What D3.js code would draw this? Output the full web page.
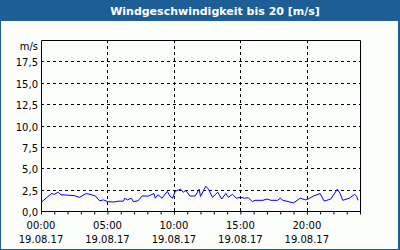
<!DOCTYPE html>
<html>
<head>
<meta charset="utf-8">
<script src="https://cdn.jsdelivr.net/npm/d3@7"></script>
<style>
  body { margin: 0; background: #fff; }
  svg { display: block; font-family: "DejaVu Sans", Verdana, sans-serif; }
</style>
</head>
<body>
<div id="chart"></div>
<script>
// hours since 00:00 on 19.08.17
const hours = [0, 0.8, 1.0, 1.3, 1.5, 2.0, 2.5, 2.9, 3.4, 3.8, 4.1, 4.4, 4.7, 5.0, 5.5, 5.8, 6.2, 6.3, 6.5, 6.8, 6.95, 7.3,
  7.6, 8.1, 8.5, 8.6, 8.8, 9.1, 9.5, 9.7, 9.9, 10.1, 10.5, 10.7, 10.9, 11.2, 11.6, 11.9, 12.0, 12.4, 12.6, 12.9, 13.3,
  13.6, 13.9, 14.1, 14.4, 14.7, 15.0, 15.3, 15.6, 15.9, 16.1, 16.7, 17.0, 17.3, 17.8, 18.0, 18.2, 19.0, 19.5, 19.9,
  20.1, 20.5, 21.0, 21.3, 21.8, 22.3, 22.5, 22.7, 23.2, 23.6, 23.75, 23.85]
const speed = [1.0, 2.05, 1.95, 2.2, 1.9, 1.85, 1.8, 1.6, 2.05, 1.9, 1.75, 1.2, 1.3, 1.1, 1.05, 1.15, 1.15, 1.5, 1.3, 1.5, 1.1, 1.2,
  1.75, 1.75, 2.05, 1.5, 1.9, 1.5, 2.3, 1.75, 1.5, 2.3, 2.55, 2.2, 2.4, 1.75, 1.75, 2.55, 1.7, 2.9, 2.55, 1.6, 2.2,
  1.4, 2.05, 1.6, 1.95, 1.5, 1.6, 1.5, 1.55, 1.1, 1.25, 1.25, 1.4, 1.25, 1.25, 1.5, 1.25, 0.95, 1.5, 1.3,
  1.4, 1.75, 2.05, 1.15, 1.4, 2.55, 2.05, 1.25, 1.5, 1.95, 1.7, 1.25]
const yTicks = [0, 2.5, 5, 7.5, 10, 12.5, 15, 17.5]
const xTicks = [0, 5, 10, 15, 20]
const timeLabels = ['00:00', '05:00', '10:00', '15:00', '20:00']
const dateLabel = '19.08.17'
const title = 'Windgeschwindigkeit bis 20 [m/s]'

const W = 400, H = 250
const blue = '#1c5e95'

const svg = d3.select('#chart').append('svg')
  .attr('width', W).attr('height', H)

svg.append('rect').attr('width', W).attr('height', H).attr('fill', blue)
svg.append('rect').attr('x', 1).attr('y', 21).attr('width', W - 3).attr('height', H - 22).attr('fill', '#fcfefc')

svg.append('text')
  .attr('x', 215).attr('y', 15)
  .attr('text-anchor', 'middle')
  .attr('fill', '#fff')
  .attr('font-size', 11).attr('font-weight', 'bold')
  .text(title)

const x = d3.scaleLinear().domain([0, 24]).range([41, 360])
const y = d3.scaleLinear().domain([0, 20]).range([211, 40])

// grid
svg.append('g')
  .selectAll('line')
  .data(yTicks.filter(d => d > 0))
  .join('line')
  .attr('x1', x(0)).attr('x2', x(24))
  .attr('y1', d => Math.round(y(d)) + 0.5).attr('y2', d => Math.round(y(d)) + 0.5)
  .attr('stroke', '#000').attr('stroke-dasharray', '3,3')

svg.append('g')
  .selectAll('line')
  .data(xTicks.filter(d => d > 0))
  .join('line')
  .attr('x1', d => Math.round(x(d)) + 0.5).attr('x2', d => Math.round(x(d)) + 0.5)
  .attr('y1', y(20)).attr('y2', y(0))
  .attr('stroke', '#000').attr('stroke-dasharray', '3,3')

// frame
svg.append('path')
  .attr('d', `M${x(0) + 0.5},${y(0) + 0.5}V${y(20) + 0.5}H${x(24) + 0.5}V${y(0) + 0.5}`)
  .attr('fill', 'none').attr('stroke', '#000')

// x axis with hourly ticks
const xAxis = svg.append('g')
  .attr('transform', `translate(0,${y(0) + 0.5})`)
  .call(d3.axisBottom(x).tickValues(d3.range(0, 25)).tickSize(3).tickFormat(''))
xAxis.select('.domain').attr('stroke', '#000').attr('d', `M${x(0)},0H${x(24) + 1}`)
xAxis.selectAll('.tick line').attr('stroke', '#000')

// y labels
svg.append('g')
  .selectAll('text')
  .data(yTicks)
  .join('text')
  .attr('x', 38).attr('y', d => y(d) + 5)
  .attr('text-anchor', 'end')
  .attr('font-size', 10)
  .text(d => d3.format('.1f')(d).replace('.', ','))

svg.append('text')
  .attr('x', 38).attr('y', y(20) + 10)
  .attr('text-anchor', 'end').attr('font-size', 10)
  .text('m/s')

// x labels
const xl = svg.append('g')
  .selectAll('g')
  .data(xTicks)
  .join('g')
  .attr('transform', d => `translate(${x(d)},0)`)
xl.append('text').attr('y', 229).attr('text-anchor', 'middle').attr('font-size', 10)
  .text((d, i) => timeLabels[i])
xl.append('text').attr('y', 243).attr('text-anchor', 'middle').attr('font-size', 10)
  .text(dateLabel)

// wind line
const line = d3.line()
  .x((d, i) => x(hours[i]))
  .y(d => y(d))

svg.append('path')
  .attr('d', line(speed))
  .attr('fill', 'none')
  .attr('stroke', '#0000ff')
  .attr('stroke-width', 1)
</script>
</body>
</html>
